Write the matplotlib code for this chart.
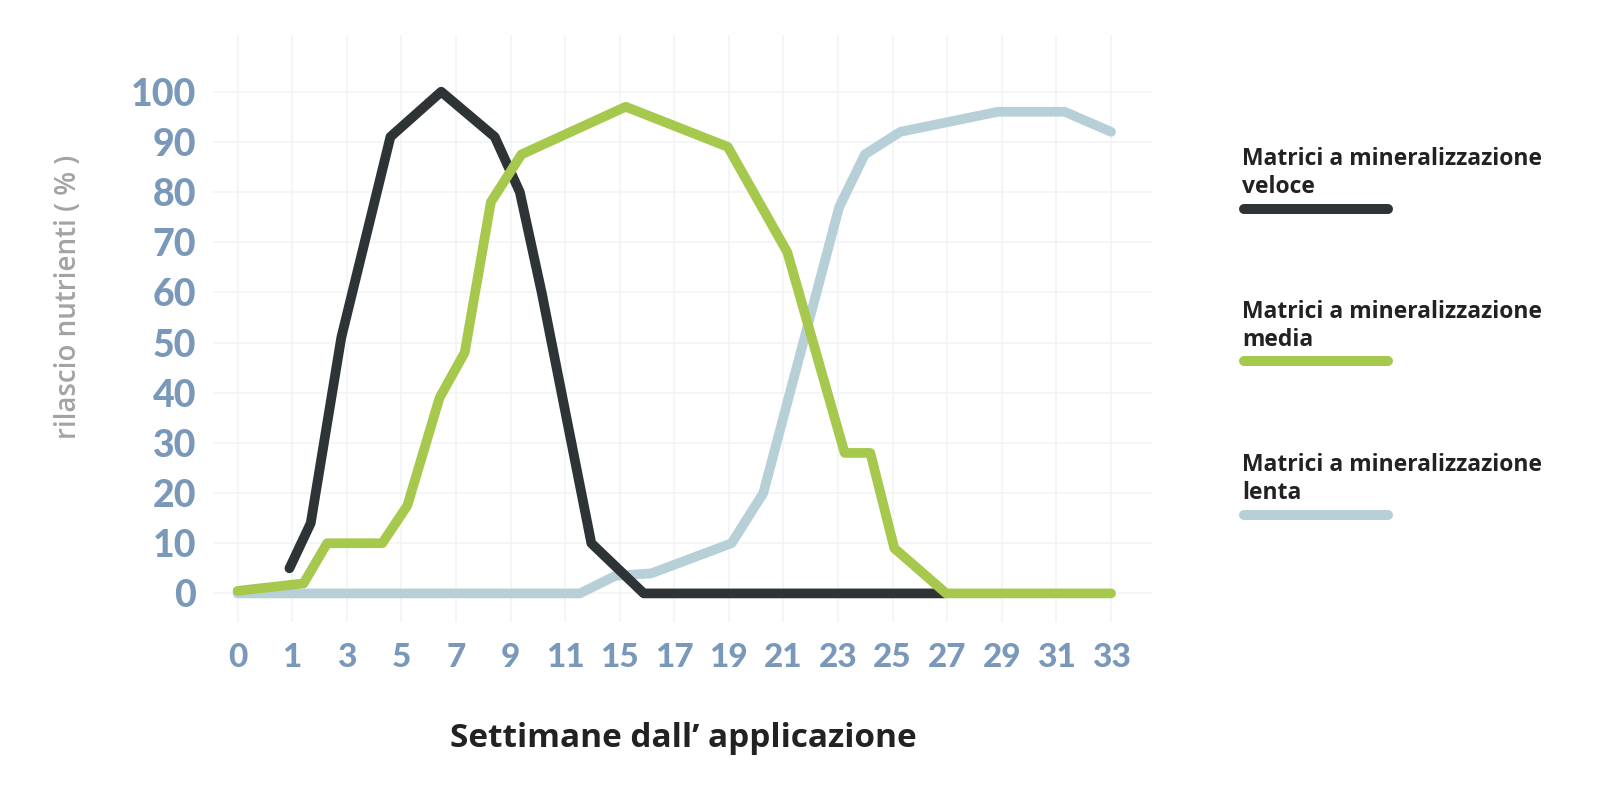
import matplotlib
matplotlib.use("Agg")
import matplotlib.pyplot as plt
from matplotlib.lines import Line2D

# Week labels shown along the x axis (one per category slot)
week_labels = ["0", "1", "3", "5", "7", "9", "11", "15", "17",
               "19", "21", "23", "25", "27", "29", "31", "33"]

# Nutrient release (%) for each matrix type, x given in category-slot units
veloce_x = [0.95, 1.34, 1.90, 2.80, 3.73, 4.71, 5.17, 5.57, 6.48, 7.44, 12.95]
veloce_y = [5, 14, 51, 91, 100, 91, 80, 60, 10, 0, 0]

media_x = [0, 1.21, 1.64, 2.65, 3.11, 3.70, 4.16, 4.64, 5.20, 7.11,
           8.98, 10.07, 11.12, 11.59, 12.03, 12.98, 16]
media_y = [0.5, 2, 10, 10, 17.5, 39, 48, 78, 87.5, 97, 89, 68, 28, 28, 9, 0, 0]

lenta_x = [0, 6.27, 6.92, 7.58, 9.05, 9.63, 11.02, 11.49, 12.14, 13.93, 15.15, 16]
lenta_y = [0, 0, 3.5, 4, 10, 20, 77, 87.5, 92, 96, 96, 92]

y_ticks = list(range(0, 101, 10))

series_labels = ["Matrici a mineralizzazione\nveloce",
                 "Matrici a mineralizzazione\nmedia",
                 "Matrici a mineralizzazione\nlenta"]

C_VELOCE = "#2e3436"
C_MEDIA = "#a6c84d"
C_LENTA = "#b7d0d8"
C_TICK = "#7a98b9"
C_DARK = "#222222"

TEXT_FONT = ["Open Sans", "Lato", "DejaVu Sans"]
NUM_FONT = ["Lato", "DejaVu Sans"]
plt.rcParams["font.family"] = TEXT_FONT

W, H = 1600, 796
fig = plt.figure(figsize=(W / 100, H / 100), dpi=100)
fig.patch.set_facecolor("white")

ax = fig.add_axes([213 / W, 1 - 622 / H, (1152 - 213) / W, (622 - 35) / H])
ax.set_xlim(-0.45, 16.75)
ax.set_ylim(-5.7, 111.3)

lw = 7.0
ax.plot(lenta_x, lenta_y, color=C_LENTA, lw=lw, solid_capstyle="round",
        solid_joinstyle="round", zorder=3)
ax.plot(veloce_x, veloce_y, color=C_VELOCE, lw=lw, solid_capstyle="round",
        solid_joinstyle="round", zorder=4)
ax.plot(media_x, media_y, color=C_MEDIA, lw=lw, solid_capstyle="round",
        solid_joinstyle="round", zorder=5)

ax.set_xticks(range(len(week_labels)))
ax.set_xticklabels(week_labels)
ax.set_yticks(y_ticks)
ax.set_yticklabels([str(v) for v in y_ticks])

for lab in ax.get_xticklabels():
    lab.set_family(NUM_FONT)
    lab.set_fontsize(24)
    lab.set_fontweight("black")
    lab.set_color(C_TICK)
for lab in ax.get_yticklabels():
    lab.set_family(NUM_FONT)
    lab.set_fontsize(27)
    lab.set_fontweight("black")
    lab.set_color(C_TICK)

ax.tick_params(axis="both", length=0)
ax.tick_params(axis="x", pad=15)
ax.tick_params(axis="y", pad=12)

for sp in ax.spines.values():
    sp.set_visible(False)
ax.grid(True, color="#f1f3f5", lw=1.2, zorder=0)
ax.set_axisbelow(True)

fig.text(69 / W, 1 - 297 / H, "rilascio nutrienti ( % )", rotation=90,
         ha="center", va="center", fontsize=20, fontweight="semibold",
         color="#a3a3a3")

fig.text(683 / W, 1 - 747 / H, "Settimane dall\u2019 applicazione",
         ha="center", va="baseline", fontsize=24, fontweight="bold",
         color=C_DARK)

# Legend: two text lines above a thick rounded swatch
legend_colors = [C_VELOCE, C_MEDIA, C_LENTA]
legend_base = [165, 318, 471]
for label, color, base in zip(series_labels, legend_colors, legend_base):
    line1, line2 = label.split("\n")
    fig.text(1242 / W, 1 - base / H, line1, ha="left", va="baseline",
             fontsize=16.5, fontweight="bold", color=C_DARK)
    fig.text(1242 / W, 1 - (base + 28) / H, line2, ha="left", va="baseline",
             fontsize=16.5, fontweight="bold", color=C_DARK)
    sy = 1 - (base + 43.5) / H
    fig.add_artist(Line2D([1244 / W, 1388 / W], [sy, sy], color=color,
                          lw=7.2, solid_capstyle="round",
                          transform=fig.transFigure))

fig.savefig("out.png", dpi=100, facecolor="white")
